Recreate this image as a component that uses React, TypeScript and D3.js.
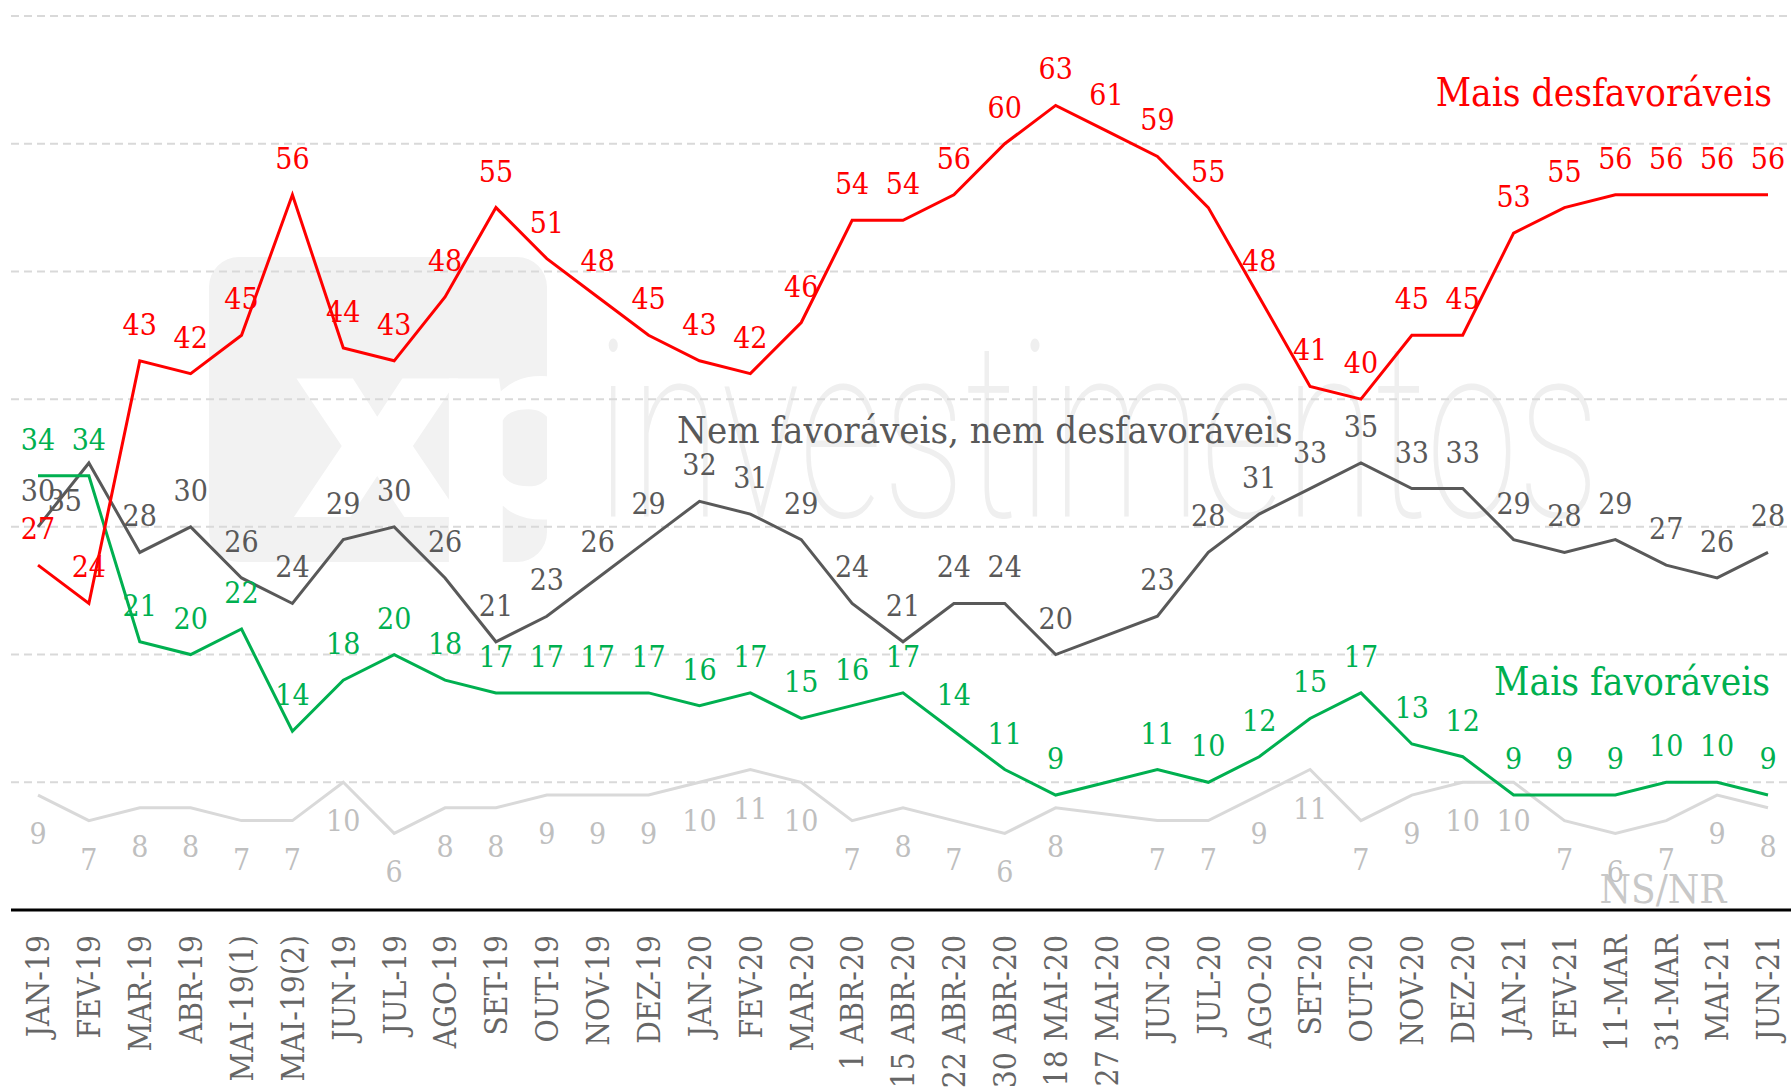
import React from "react";
import * as d3 from "d3";

const categories = [
  "JAN-19", "FEV-19", "MAR-19", "ABR-19", "MAI-19(1)", "MAI-19(2)", "JUN-19", "JUL-19", "AGO-19",
  "SET-19", "OUT-19", "NOV-19", "DEZ-19", "JAN-20", "FEV-20", "MAR-20", "1 ABR-20", "15 ABR-20",
  "22 ABR-20", "30 ABR-20", "18 MAI-20", "27 MAI-20", "JUN-20", "JUL-20", "AGO-20", "SET-20",
  "OUT-20", "NOV-20", "DEZ-20", "JAN-21", "FEV-21", "11-MAR", "31-MAR", "MAI-21", "JUN-21",
];

const maisDesfavoraveis = [27, 24, 43, 42, 45, 56, 44, 43, 48, 55, 51, 48, 45, 43, 42, 46, 54, 54, 56, 60, 63, 61, 59, 55, 48, 41, 40, 45, 45, 53, 55, 56, 56, 56, 56];
const nemFavNemDesfav = [30, 35, 28, 30, 26, 24, 29, 30, 26, 21, 23, 26, 29, 32, 31, 29, 24, 21, 24, 24, 20, null, 23, 28, 31, 33, 35, 33, 33, 29, 28, 29, 27, 26, 28];
const maisFavoraveis = [34, 34, 21, 20, 22, 14, 18, 20, 18, 17, 17, 17, 17, 16, 17, 15, 16, 17, 14, 11, 9, null, 11, 10, 12, 15, 17, 13, 12, 9, 9, 9, 10, 10, 9];
const nsNr = [9, 7, 8, 8, 7, 7, 10, 6, 8, 8, 9, 9, 9, 10, 11, 10, 7, 8, 7, 6, 8, null, 7, 7, 9, 11, 7, 9, 10, 10, 7, 6, 7, 9, 8];

const yTicks = [10, 20, 30, 40, 50, 60, 70];

const seriesNames = ["Mais desfavoráveis", "Nem favoráveis, nem desfavoráveis", "Mais favoráveis", "NS/NR"];

const W = 1791;
const H = 1087;
const FONT = "'DejaVu Serif Condensed', 'DejaVu Serif', serif";

export default function App() {
  const x = d3.scalePoint<string>().domain(categories).range([38, 1768]).padding(0);
  const y = d3.scaleLinear().domain([0, 70]).range([910, 16]);

  type Pt = { i: number; v: number };
  const toPts = (vals: (number | null)[]): Pt[] =>
    vals.map((v, i) => ({ i, v: v as number })).filter((d) => d.v !== null && d.v !== undefined);

  const line = d3
    .line<Pt>()
    .x((d) => x(categories[d.i]) as number)
    .y((d) => y(d.v));

  const series = [
    { key: "nsnr", values: nsNr, color: "#d9d9d9", labelColor: "#bfbfbf", below: true },
    { key: "nem", values: nemFavNemDesfav, color: "#595959", labelColor: "#595959", below: false },
    { key: "fav", values: maisFavoraveis, color: "#00b050", labelColor: "#00b050", below: false },
    { key: "desfav", values: maisDesfavoraveis, color: "#ff0000", labelColor: "#ff0000", below: false },
  ];

  // special label placement (offset from the default)
  const labelShift: Record<string, [number, number]> = {
    "nem-1": [-24, 74],
  };

  return (
    <svg
      width={W}
      height={H}
      style={{ position: "absolute", left: 0, top: 0, background: "#fff" }}
      fontFamily={FONT}
    >
      <rect width={W} height={H} fill="#ffffff" />
      {/* watermark */}
      <defs>
        <clipPath id="wmclip">
          <rect x={209} y={257} width={338} height={305} rx={30} ry={30} />
        </clipPath>
      </defs>
      <rect x={209} y={257} width={338} height={305} rx={30} ry={30} fill="#f2f2f2" />
      <g clipPath="url(#wmclip)">
        <text
          transform="translate(292,517) scale(1.25,1)"
          fill="#ffffff"
          fontFamily="Roboto, 'Open Sans', sans-serif"
          fontWeight={900}
          fontSize={262}
          letterSpacing={-22}
        >
          xp
        </text>
      </g>
      <text
        x={596}
        y={517}
        fill="#efefef"
        fontFamily="Roboto, Lato, sans-serif"
        fontWeight={100}
        fontSize={246}
        textLength={1004}
        lengthAdjust="spacingAndGlyphs"
      >
        investimentos
      </text>

      {/* gridlines */}
      {yTicks.map((t) => (
        <line
          key={t}
          x1={11}
          x2={W}
          y1={y(t)}
          y2={y(t)}
          stroke="#d9d9d9"
          strokeWidth={2}
          strokeDasharray="8 5"
        />
      ))}

      {/* lines */}
      {series.map((s) => (
        <path
          key={s.key}
          d={line(toPts(s.values)) || ""}
          fill="none"
          stroke={s.color}
          strokeWidth={3}
        />
      ))}

      {/* data labels */}
      {series.map((s) =>
        toPts(s.values).map((d) => {
          const sh = labelShift[`${s.key}-${d.i}`] || [0, 0];
          const px = (x(categories[d.i]) as number) + sh[0];
          const py = y(d.v) + (s.below ? 49 : -26) + sh[1];
          return (
            <text
              key={`${s.key}-${d.i}`}
              x={px}
              y={py}
              textAnchor="middle"
              fontSize={30}
              fill={s.labelColor}
            >
              {d.v}
            </text>
          );
        })
      )}

      {/* series titles */}
      <text x={1772} y={106} textAnchor="end" fontSize={38.5} fill="#ff0000">
        {seriesNames[0]}
      </text>
      <text x={677} y={443} textAnchor="start" fontSize={38} fill="#595959">
        {seriesNames[1]}
      </text>
      <text x={1770} y={695} textAnchor="end" fontSize={38.5} fill="#00b050">
        {seriesNames[2]}
      </text>
      <text x={1663} y={903} textAnchor="middle" fontSize={40} fill="#c8c8c8">
        {seriesNames[3]}
      </text>

      {/* axis line */}
      <line x1={11} x2={W} y1={910} y2={910} stroke="#000" strokeWidth={3} />

      {/* x labels */}
      {categories.map((c) => (
        <text
          key={c}
          transform={`translate(${x(c)},935) rotate(-90)`}
          textAnchor="end"
          dy="0.36em"
          fontSize={31.5}
          fill="#666666"
        >
          {c}
        </text>
      ))}
    </svg>
  );
}
